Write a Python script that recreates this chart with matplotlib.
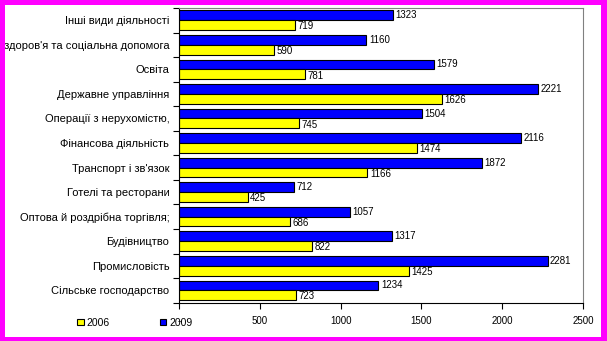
import numpy as np
import matplotlib
matplotlib.use("Agg")
from matplotlib import pyplot as plt
from matplotlib.patches import Rectangle, Patch
from matplotlib.transforms import Bbox, TransformedBbox

# branches, listed from top to bottom
categories = [
    "Інші види діяльності",
    "Охорона здоров'я та соціальна допомога",
    "Освіта",
    "Державне управління",
    "Операції з нерухомістю,",
    "Фінансова діяльність",
    "Транспорт і зв'язок",
    "Готелі та ресторани",
    "Оптова й роздрібна торгівля;",
    "Будівництво",
    "Промисловість",
    "Сільське господарство",
]
values_2006 = [719, 590, 781, 1626, 745, 1474, 1166, 425, 686, 822, 1425, 723]
values_2009 = [1323, 1160, 1579, 2221, 1504, 2116, 1872, 712, 1057, 1317, 2281, 1234]
x_ticks = [0, 500, 1000, 1500, 2000, 2500]
x_tick_labels = ["-", "500", "1000", "1500", "2000", "2500"]

plt.rcParams["font.family"] = ["Liberation Sans", "DejaVu Sans"]

W, H = 607, 341
fig = plt.figure(figsize=(W / 100, H / 100), dpi=100)
fig.patch.set_facecolor("#ff00ff")

# white panel inside the magenta frame
inner = Rectangle((5 / W, 4 / H), 596 / W, 332 / H, transform=fig.transFigure,
                  facecolor="white", edgecolor="none", zorder=-1)
fig.patches.append(inner)

ax = fig.add_axes([179 / W, 1 - 302.6 / H, 404 / W, 294.6 / H])
ax.set_facecolor("white")

n = len(categories)
pos = np.arange(n)
h = 0.4

ax.barh(pos - h / 2, values_2009, height=h, color="#0000ff",
        edgecolor="black", linewidth=0.8, label="2009")
ax.barh(pos + h / 2, values_2006, height=h, color="#ffff00",
        edgecolor="black", linewidth=0.8, label="2006")

for y, v in zip(pos, values_2009):
    ax.text(v + 15, y - h / 2, str(v), va="center", ha="left", fontsize=7)
for y, v in zip(pos, values_2006):
    ax.text(v + 15, y + h / 2 + 0.05, str(v), va="center", ha="left", fontsize=7)

ax.set_xlim(0, 2500)
ax.set_ylim(n - 0.5, -0.5)

ax.set_xticks(x_ticks)
ax.set_xticklabels(x_tick_labels, fontsize=7)
ax.tick_params(axis="x", direction="out", length=4, width=0.8, pad=6)

# tick marks between groups, names at group centres
ax.set_yticks(np.arange(-0.5, n, 1.0))
ax.set_yticklabels([])
ax.set_yticks(pos, minor=True)
ax.set_yticklabels(categories, minor=True, fontsize=8)
ax.tick_params(axis="y", which="major", direction="out", length=4, width=0.8)
ax.tick_params(axis="y", which="minor", length=0, pad=7)

for side in ("top", "right"):
    ax.spines[side].set_color("#808080")
    ax.spines[side].set_linewidth(0.8)
for side in ("left", "bottom"):
    ax.spines[side].set_color("black")
    ax.spines[side].set_linewidth(0.8)

# long labels are cut at the edge of the white panel
clip = TransformedBbox(Bbox([[5 / W, 4 / H], [601 / W, 336 / H]]), fig.transFigure)
for lbl in ax.get_yticklabels(minor=True):
    lbl.set_clip_box(clip)
    lbl.set_clip_on(True)

handles = [Patch(facecolor="#ffff00", edgecolor="black", linewidth=0.8, label="2006"),
           Patch(facecolor="#0000ff", edgecolor="black", linewidth=0.8, label="2009")]
fig.legend(handles=handles, loc="lower left", bbox_to_anchor=(68 / W, 4 / H),
           ncol=2, frameon=False, fontsize=7.5, handlelength=0.6, handleheight=0.6,
           handletextpad=0.3, columnspacing=4.8)

fig.savefig("out.png", dpi=100, facecolor=fig.get_facecolor())
